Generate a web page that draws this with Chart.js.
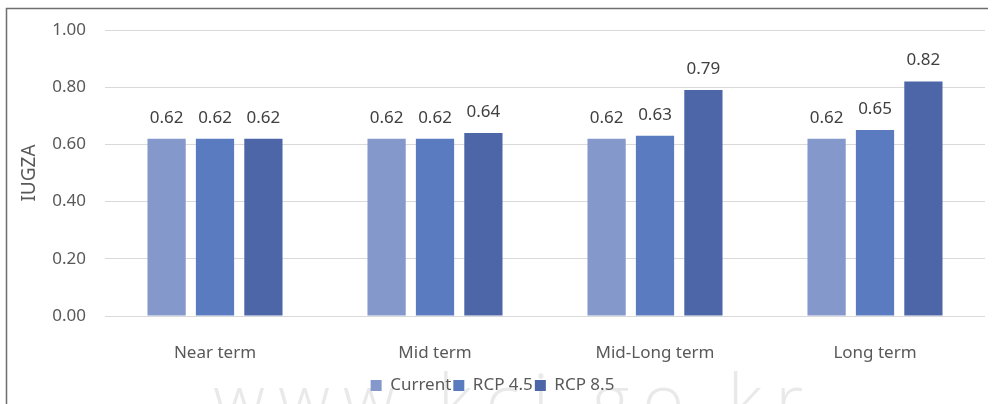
<!DOCTYPE html>
<html>
<head>
<meta charset="utf-8">
<style>
  html, body { margin: 0; padding: 0; background: #ffffff; }
  #wrap { position: relative; width: 995px; height: 404px; }
</style>
<script src="https://cdn.jsdelivr.net/npm/chart.js@4/dist/chart.umd.min.js"></script>
</head>
<body>
<div id="wrap"><canvas id="chart" width="995" height="404"></canvas></div>
<script>
// Planning periods and the index for each scenario
const categories = ['Near term', 'Mid term', 'Mid-Long term', 'Long term'];
const seriesNames = ['Current', 'RCP 4.5', 'RCP 8.5'];
const currentValues = [0.62, 0.62, 0.62, 0.62];
const rcp45Values = [0.62, 0.62, 0.63, 0.65];
const rcp85Values = [0.62, 0.64, 0.79, 0.82];
const yAxisTitle = 'IUGZA';
const watermarkText = 'www.kci.go.kr';

const seriesColors = ['#8598cc', '#5a7bbf', '#4d66a8'];
const FONT = "'Noto Sans', 'Open Sans', sans-serif";

// Value labels above each bar
const valueLabels = {
  id: 'valueLabels',
  afterDatasetsDraw(chart) {
    const ctx = chart.ctx;
    ctx.save();
    ctx.font = '17px ' + FONT;
    ctx.fillStyle = '#404040';
    ctx.textAlign = 'center';
    ctx.textBaseline = 'middle';
    chart.data.datasets.forEach((ds, i) => {
      const meta = chart.getDatasetMeta(i);
      meta.data.forEach((bar, j) => {
        ctx.fillText(ds.data[j].toFixed(2), bar.x, bar.y - 21);
      });
    });
    ctx.restore();
  }
};

// Frame lines and the faint site mark along the bottom
const frame = {
  id: 'frame',
  beforeDraw(chart) {
    const ctx = chart.ctx;
    ctx.save();
    ctx.font = '300 72px "Open Sans", sans-serif';
    ctx.fillStyle = 'rgba(0,0,0,0.085)';
    ctx.textAlign = 'left';
    ctx.textBaseline = 'alphabetic';
    const startX = 213, spanW = 590;
    const plainW = ctx.measureText(watermarkText).width;
    if ('letterSpacing' in ctx) {
      const gap = Math.max(0, (spanW - plainW) / (watermarkText.length - 1));
      ctx.letterSpacing = gap.toFixed(1) + 'px';
    }
    ctx.fillText(watermarkText, startX, 426);
    ctx.restore();
  },
  afterDraw(chart) {
    const ctx = chart.ctx;
    ctx.save();
    ctx.strokeStyle = '#6e6e6e';
    ctx.lineWidth = 1.5;
    ctx.beginPath();
    ctx.moveTo(6.5, 404);
    ctx.lineTo(6.5, 8.5);
    ctx.lineTo(988, 8.5);
    ctx.stroke();
    ctx.restore();
  }
};

const valueSets = [currentValues, rcp45Values, rcp85Values];

new Chart(document.getElementById('chart'), {
  type: 'bar',
  data: {
    labels: categories,
    datasets: seriesNames.map((name, i) => ({
      label: name,
      data: valueSets[i],
      backgroundColor: seriesColors[i],
      borderWidth: 0,
      categoryPercentage: 0.66,
      barPercentage: 0.79
    }))
  },
  options: {
    responsive: false,
    animation: false,
    layout: { padding: { left: 0, right: 10, top: 30, bottom: 0 } },
    plugins: {
      legend: {
        position: 'bottom',
        labels: {
          boxWidth: 11,
          boxHeight: 11,
          padding: 2,
          color: '#595959',
          font: { family: FONT, size: 17 }
        }
      },
      tooltip: { enabled: false }
    },
    scales: {
      x: {
        grid: { display: false },
        border: { display: false },
        ticks: { color: '#595959', font: { family: FONT, size: 17 }, padding: 19 },
        afterFit(scale) { scale.height = 59; }
      },
      y: {
        min: 0,
        max: 1,
        ticks: {
          stepSize: 0.2,
          color: '#595959',
          font: { family: FONT, size: 17 },
          padding: 19,
          callback: v => Number(v).toFixed(2)
        },
        grid: { color: '#d9d9d9', lineWidth: 1, drawTicks: false },
        border: { display: false },
        title: {
          display: true,
          text: yAxisTitle,
          color: '#595959',
          font: { family: FONT, size: 19 },
          padding: { top: 18, bottom: 0 }
        },
        afterFit(scale) { scale.width = 105; }
      }
    }
  },
  plugins: [valueLabels, frame]
});
</script>
</body>
</html>
